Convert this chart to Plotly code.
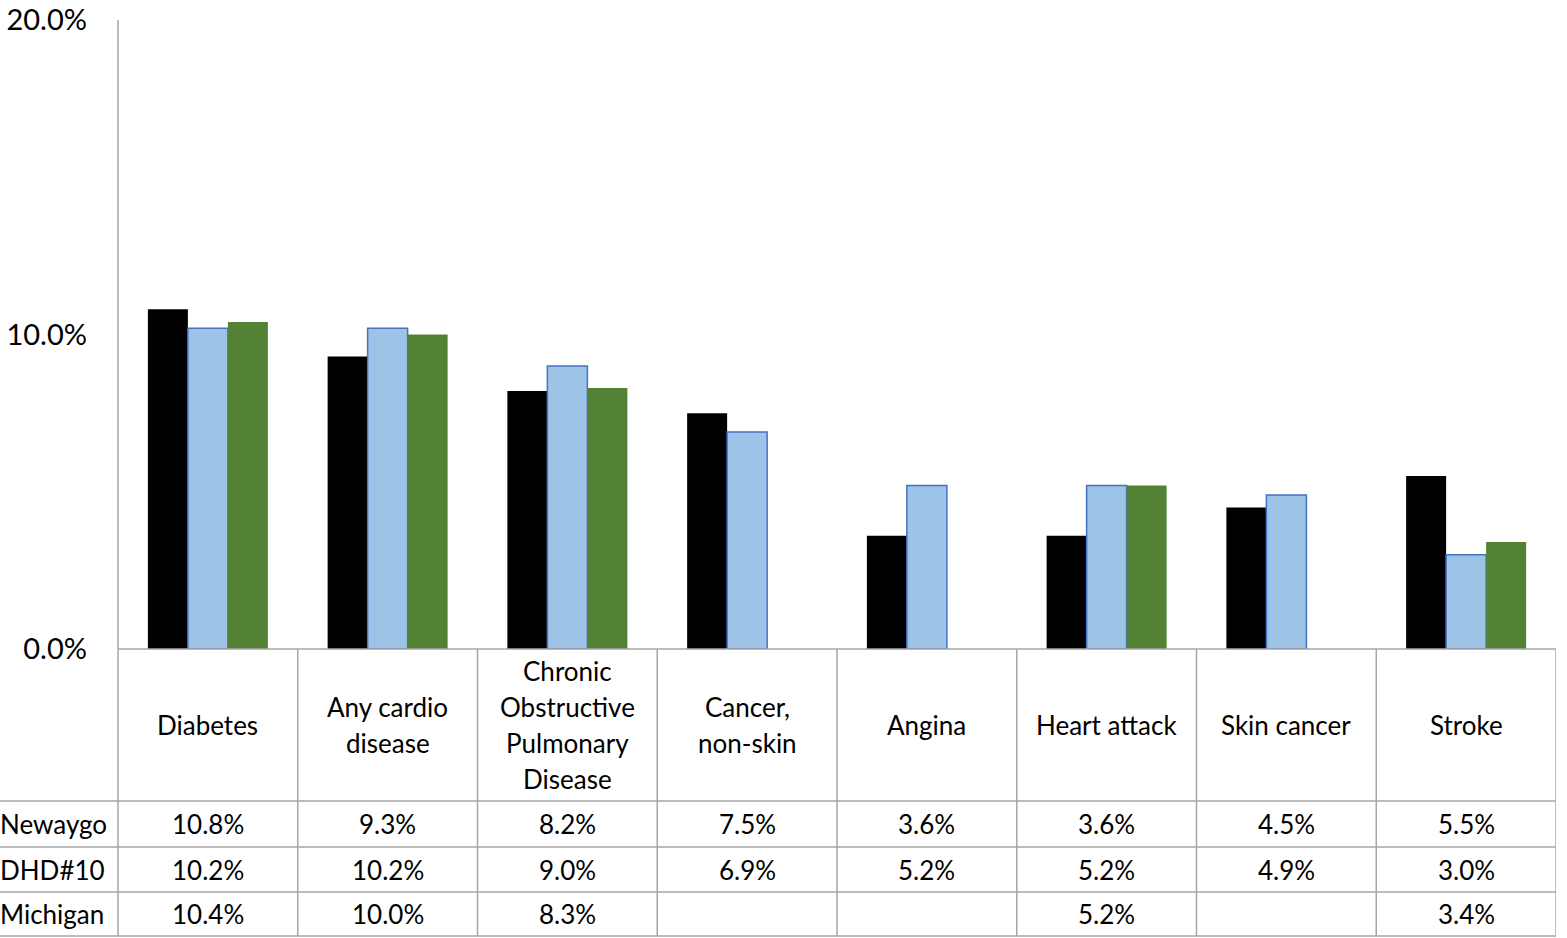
import plotly.graph_objects as go

categories = ["Diabetes", "Any cardio\ndisease", "Chronic\nObstructive\nPulmonary\nDisease",
              "Cancer,\nnon-skin", "Angina", "Heart attack", "Skin cancer", "Stroke"]
series_names = ["Newaygo", "DHD#10", "Michigan"]
newaygo = [10.8, 9.3, 8.2, 7.5, 3.6, 3.6, 4.5, 5.5]
dhd10 = [10.2, 10.2, 9.0, 6.9, 5.2, 5.2, 4.9, 3.0]
michigan = [10.4, 10.0, 8.3, None, None, 5.2, None, 3.4]
y_ticks = [0, 10, 20]
y_tick_labels = ["0.0%", "10.0%", "20.0%"]

W, H = 1567, 938
FONT = "Lato"
GRID = "#a6a6a6"
TXT = 26

def px(x):
    return x / W

def py(y):
    return 1 - y / H

xs = list(range(len(categories)))
series = [newaygo, dhd10, michigan]
fills = ["#000000", "#9DC3E6", "#548235"]
lines = [dict(width=0), dict(color="#4472C4", width=1.5), dict(width=0)]

fig = go.Figure()
for name, vals, fc, ln in zip(series_names, series, fills, lines):
    fig.add_trace(go.Bar(x=xs, y=vals, name=name, marker=dict(color=fc, line=ln),
                         showlegend=False, hoverinfo="y"))

# table geometry (pixels)
header_top, header_bot = 649, 801
row_edges = [801, 847, 892, 936]
left_x, axis_x, right_x = 0, 118, 1556

shapes = []
shapes.append(dict(type="line", xref="paper", yref="paper", x0=px(axis_x), x1=px(axis_x),
                   y0=py(20), y1=py(936), line=dict(color=GRID, width=1.5)))
shapes.append(dict(type="line", xref="paper", yref="paper", x0=px(axis_x), x1=px(right_x),
                   y0=py(header_top), y1=py(header_top), line=dict(color=GRID, width=1.5)))
for ry in row_edges:
    shapes.append(dict(type="line", xref="paper", yref="paper", x0=px(left_x), x1=px(right_x),
                       y0=py(ry), y1=py(ry), line=dict(color=GRID, width=1.5)))
for i in range(1, len(categories) + 1):
    shapes.append(dict(type="line", xref="x", yref="paper", x0=i - 0.5, x1=i - 0.5,
                       y0=py(header_top), y1=py(936), line=dict(color=GRID, width=1.5)))

annotations = []
hdr_center = (header_top + header_bot) / 2
line_sp = 36
for i, cat in enumerate(categories):
    parts = cat.split("\n")
    n = len(parts)
    for k, p in enumerate(parts):
        yc = hdr_center + (k - (n - 1) / 2) * line_sp
        annotations.append(dict(x=i, y=py(yc), xref="x", yref="paper", text=p, showarrow=False,
                                xanchor="center", yanchor="middle",
                                font=dict(family=FONT, size=TXT, color="#000000")))
for r, (name, vals) in enumerate(zip(series_names, series)):
    yc = (row_edges[r] + row_edges[r + 1]) / 2
    annotations.append(dict(x=px(left_x), y=py(yc), xref="paper", yref="paper", text=name,
                            showarrow=False, xanchor="left", yanchor="middle", xshift=-2,
                            font=dict(family=FONT, size=TXT, color="#000000")))
    for i, v in enumerate(vals):
        if v is None:
            continue
        annotations.append(dict(x=i, y=py(yc), xref="x", yref="paper", text=f"{v:.1f}%",
                                showarrow=False, xanchor="center", yanchor="middle",
                                font=dict(family=FONT, size=TXT, color="#000000")))

fig.update_layout(
    width=W, height=H,
    margin=dict(l=0, r=0, t=0, b=0, pad=0, autoexpand=False),
    paper_bgcolor="white", plot_bgcolor="white",
    barmode="group", bargap=1 - 120 / 179.75, bargroupgap=0,
    xaxis=dict(domain=[px(axis_x), px(right_x)], range=[-0.5, len(categories) - 0.5],
               showticklabels=False, showgrid=False, zeroline=False, showline=False, ticks="",
               automargin=False),
    yaxis=dict(domain=[py(header_top), py(20)], range=[0, 20], tickvals=y_ticks,
               ticktext=y_tick_labels, showgrid=False, zeroline=False, showline=False,
               ticks="", ticklabelstandoff=30, automargin=False,
               tickfont=dict(family=FONT, size=29, color="#000000")),
    shapes=shapes, annotations=annotations,
    font=dict(family=FONT),
)

fig.write_html("out.html", config={"displayModeBar": False},
               post_script="document.body.style.margin='0';document.body.style.overflow='hidden';")
